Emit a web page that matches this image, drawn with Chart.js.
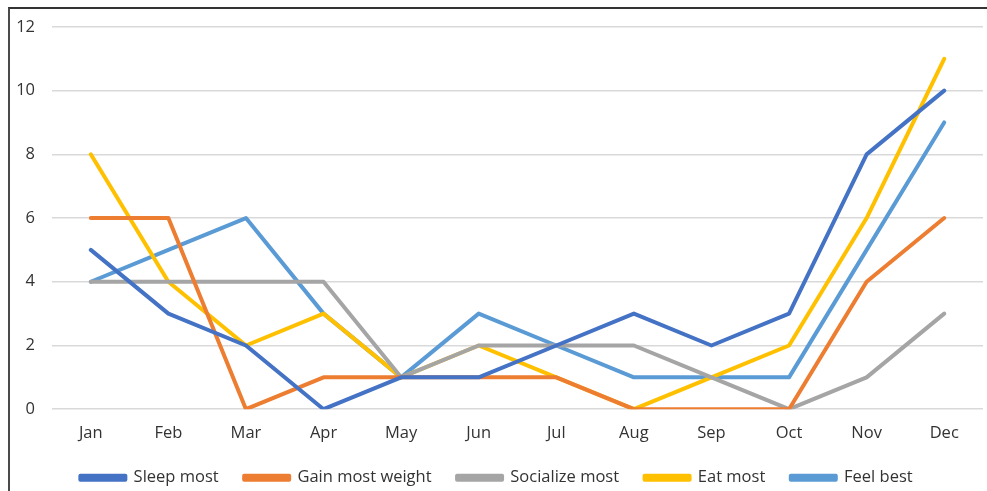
<!DOCTYPE html>
<html>
<head>
<meta charset="utf-8">
<script src="https://cdn.jsdelivr.net/npm/chart.js@4/dist/chart.umd.min.js"></script>
<style>
  html, body { margin: 0; padding: 0; background: #fff; }
  #wrap { position: relative; width: 987px; height: 491px; overflow: hidden; }
  #frame { position: absolute; left: 8px; top: 7px; width: 1100px; height: 600px;
           border-left: 2px solid #4a4a4a; border-top: 2px solid #333; }
  #chart { position: absolute; left: 0; top: 0; }
</style>
</head>
<body>
<div id="wrap">
  <div id="frame"></div>
  <canvas id="chart" width="987" height="491"></canvas>
</div>
<script>
const months = ["Jan", "Feb", "Mar", "Apr", "May", "Jun", "Jul", "Aug", "Sep", "Oct", "Nov", "Dec"];

const sleepMost      = [5, 3, 2, 0, 1, 1, 2, 3, 2, 3, 8, 10];
const gainMostWeight = [6, 6, 0, 1, 1, 1, 1, 0, 0, 0, 4, 6];
const socializeMost  = [4, 4, 4, 4, 1, 2, 2, 2, 1, 0, 1, 3];
const eatMost        = [8, 4, 2, 3, 1, 2, 1, 0, 1, 2, 6, 11];
const feelBest       = [4, 5, 6, 3, 1, 3, 2, 1, 1, 1, 5, 9];

const yTicks = [0, 2, 4, 6, 8, 10, 12];

const FONT = "'Open Sans', 'DejaVu Sans', sans-serif";

function series(label, data, color) {
  return {
    label: label,
    data: data,
    borderColor: color,
    backgroundColor: color,
    borderWidth: 4,
    pointRadius: 0,
    pointHoverRadius: 0,
    tension: 0,
    borderCapStyle: "round",
    borderJoinStyle: "round",
    fill: false,
  };
}

new Chart(document.getElementById("chart"), {
  type: "line",
  data: {
    labels: months,
    datasets: [
      series("Sleep most", sleepMost, "#4472C4"),
      series("Gain most weight", gainMostWeight, "#ED7D31"),
      series("Socialize most", socializeMost, "#A5A5A5"),
      series("Eat most", eatMost, "#FFC000"),
      series("Feel best", feelBest, "#5B9BD5"),
    ],
  },
  options: {
    responsive: false,
    animation: false,
    layout: { padding: { left: 10, right: 4, top: 13, bottom: 0 } },
    plugins: {
      tooltip: { enabled: false },
      legend: {
        display: true,
        position: "bottom",
        maxHeight: 47,
        labels: {
          boxWidth: 45,
          boxHeight: 4,
          padding: 25.5,
          color: "#333",
          font: { size: 16.5, family: FONT },
        },
      },
    },
    scales: {
      x: {
        offset: true,
        afterFit: (scale) => {
          scale.height = scale.height - 13;
        },
        grid: { display: false, drawTicks: false },
        border: { display: false },
        ticks: {
          color: "#333",
          padding: 14,
          maxRotation: 0,
          font: { size: 16.5, family: FONT },
        },
      },
      y: {
        min: 0,
        max: 12,
        afterBuildTicks: (scale) => {
          scale.ticks = yTicks.map((v) => ({ value: v }));
        },
        afterFit: (scale) => {
          scale.width = 42;
        },
        grid: { color: "#d9d9d9", lineWidth: 1.5, drawTicks: false },
        border: { display: false },
        ticks: {
          color: "#333",
          padding: 17,
          font: { size: 16.5, family: FONT },
        },
      },
    },
  },
});
</script>
</body>
</html>
